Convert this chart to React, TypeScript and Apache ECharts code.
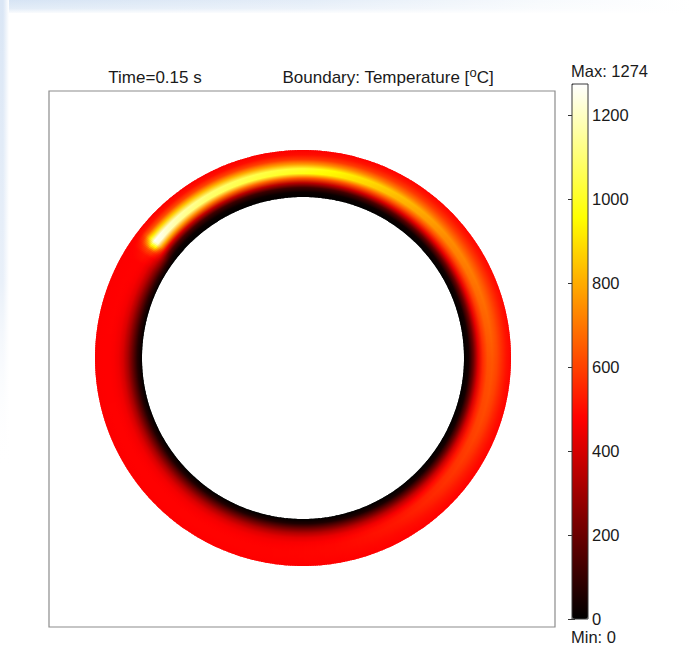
import React, { useEffect, useRef } from 'react';
import * as echarts from 'echarts';

// ---- data ----
const ringInner = 0.774; // inner radius (relative to outer radius)
const ringOuter = 1.0;
// positions across the wall, 0 = inner boundary, 1 = outer boundary
const wallPositions = [0, 0.1, 0.2, 0.3, 0.4, 0.5, 0.6, 0.7, 0.8, 0.9, 1.0];
// angles (degrees, counter-clockwise from +x)
const angles = [0, 20, 40, 60, 75, 90, 105, 120, 130, 136, 140, 142, 143.5, 145, 147, 150, 160, 180, 200, 220, 240, 260, 280, 300, 320, 340];
// temperature profiles across the wall, one row per angle
const temperatures = [
  [0, 40, 200, 420, 560, 630, 640, 610, 560, 510, 480],
  [0, 40, 205, 435, 590, 675, 690, 640, 580, 525, 488],
  [0, 30, 190, 430, 610, 730, 745, 660, 580, 520, 485],
  [0, 25, 160, 410, 640, 820, 840, 700, 590, 520, 480],
  [0, 20, 130, 380, 640, 900, 920, 740, 590, 510, 475],
  [0, 20, 110, 340, 640, 980, 1010, 760, 580, 500, 470],
  [0, 20, 110, 350, 670, 1030, 1050, 790, 600, 500, 470],
  [0, 20, 115, 360, 700, 1080, 1100, 820, 610, 505, 470],
  [0, 20, 125, 380, 740, 1130, 1160, 850, 620, 505, 470],
  [0, 25, 135, 400, 770, 1180, 1210, 870, 630, 510, 470],
  [0, 30, 150, 420, 800, 1230, 1255, 900, 640, 510, 470],
  [0, 40, 180, 450, 780, 1210, 1274, 940, 660, 515, 470],
  [0, 60, 220, 440, 640, 900, 950, 760, 590, 500, 470],
  [0, 80, 250, 420, 530, 610, 630, 590, 530, 485, 470],
  [0, 90, 250, 380, 460, 500, 515, 505, 488, 476, 470],
  [0, 90, 230, 350, 430, 470, 480, 480, 478, 475, 470],
  [0, 80, 210, 330, 420, 460, 475, 480, 478, 475, 470],
  [0, 70, 190, 310, 400, 450, 470, 478, 478, 475, 470],
  [0, 65, 190, 315, 405, 455, 472, 479, 479, 476, 470],
  [0, 60, 195, 320, 410, 458, 474, 480, 480, 477, 472],
  [0, 60, 195, 325, 415, 460, 475, 481, 481, 478, 473],
  [0, 60, 200, 330, 420, 462, 476, 482, 482, 479, 474],
  [0, 55, 200, 340, 435, 475, 488, 490, 487, 482, 475],
  [0, 50, 200, 355, 460, 510, 522, 512, 496, 486, 476],
  [0, 45, 200, 380, 500, 560, 572, 552, 522, 496, 478],
  [0, 40, 200, 400, 530, 600, 612, 586, 542, 505, 480],
];
const tempMin = 0;
const tempMax = 1274;
const tickInterval = 200;
const hotColors = ['#000000', '#550000', '#aa0000', '#ff0000', '#ff5500', '#ffaa00', '#ffff00', '#ffff80', '#ffffff'];
const timeTitle = 'Time=0.15 s';
const maxLabel = 'Max: 1274';
const minLabel = 'Min: 0';

const FONT = '"Liberation Sans", Arial, sans-serif';

const hotRgb = hotColors.map((h) => [
  parseInt(h.slice(1, 3), 16),
  parseInt(h.slice(3, 5), 16),
  parseInt(h.slice(5, 7), 16),
]);
function colorFor(v: number): string {
  const t = Math.min(1, Math.max(0, (v - tempMin) / (tempMax - tempMin))) * (hotRgb.length - 1);
  const k = Math.min(hotRgb.length - 2, Math.floor(t));
  const u = t - k;
  const a = hotRgb[k];
  const b = hotRgb[k + 1];
  return `rgb(${Math.round(a[0] + (b[0] - a[0]) * u)},${Math.round(a[1] + (b[1] - a[1]) * u)},${Math.round(a[2] + (b[2] - a[2]) * u)})`;
}

export default function App() {
  const ref = useRef<HTMLDivElement>(null);
  useEffect(() => {
    document.body.style.margin = '0';
    if (!ref.current) return;
    const chart = echarts.init(ref.current, undefined, { renderer: 'svg' });
    const n = angles.length;
    const data = angles.map((a, i) => [ringOuter, a, i, Math.max(...temperatures[i])]);

    const renderItem = (params: any, api: any) => {
      const i = api.value(2);
      const a0 = angles[i];
      const a1 = i + 1 < n ? angles[i + 1] : angles[0] + 360;
      const p0 = temperatures[i];
      const p1 = temperatures[(i + 1) % n];
      const c = api.coord([0, a0]);
      const cx = c[0];
      const cy = c[1];
      const dist = (p: number[]) => Math.hypot(p[0] - cx, p[1] - cy);
      const rPx = wallPositions.map((f) => dist(api.coord([ringInner + f * (ringOuter - ringInner), a0])));
      const rIn = rPx[0];
      const rOut = rPx[rPx.length - 1];
      const span = a1 - a0;
      const K = Math.max(1, Math.ceil(span / 0.5));
      const children: any[] = [];
      for (let k = 0; k < K; k++) {
        const ta = a0 + (span * k) / K;
        const tb = a0 + (span * (k + 1)) / K;
        const tm = (k + 0.5) / K;
        const pa = api.coord([ringOuter, ta]);
        const pb = api.coord([ringOuter, tb]);
        const angA = Math.atan2(pa[1] - cy, pa[0] - cx);
        const angB = Math.atan2(pb[1] - cy, pb[0] - cx);
        let d = angA - angB;
        while (d <= -Math.PI) d += 2 * Math.PI;
        while (d > Math.PI) d -= 2 * Math.PI;
        const start = Math.min(angA - d, angA);
        const end = Math.max(angA - d, angA);
        const stops = wallPositions.map((_, j) => ({
          offset: rPx[j] / rOut,
          color: colorFor(p0[j] + (p1[j] - p0[j]) * tm),
        }));
        children.push({
          type: 'sector',
          shape: { cx, cy, r0: rIn, r: rOut, startAngle: start - 0.003, endAngle: end + 0.003, clockwise: true },
          style: {
            fill: { type: 'radial', x: cx, y: cy, r: rOut, global: true, colorStops: stops },
            stroke: 'none',
          },
          silent: true,
        });
      }
      return { type: 'group', children };
    };

    const option: any = {
      animation: false,
      backgroundColor: '#ffffff',
      graphic: [
        {
          type: 'rect', z: -10, silent: true,
          shape: { x: 0, y: 0, width: 691, height: 13 },
          style: {
            fill: { type: 'linear', x: 0, y: 0, x2: 1, y2: 0, colorStops: [
              { offset: 0, color: '#d6e4f4' }, { offset: 0.45, color: '#e4edf8' },
              { offset: 0.78, color: '#f7fafd' }, { offset: 1, color: '#ffffff' } ] },
          },
        },
        {
          type: 'rect', z: -9, silent: true,
          shape: { x: 0, y: 0, width: 691, height: 14 },
          style: {
            fill: { type: 'linear', x: 0, y: 0, x2: 0, y2: 1, colorStops: [
              { offset: 0, color: 'rgba(255,255,255,0)' }, { offset: 0.6, color: 'rgba(255,255,255,0.3)' },
              { offset: 1, color: 'rgba(255,255,255,1)' } ] },
          },
        },
        {
          type: 'rect', z: -9, silent: true,
          shape: { x: 0, y: 0, width: 9, height: 470 },
          style: {
            fill: { type: 'linear', x: 0, y: 0, x2: 0, y2: 1, colorStops: [
              { offset: 0, color: '#dae6f5' }, { offset: 0.6, color: '#e9f0f9' },
              { offset: 1, color: 'rgba(255,255,255,0)' } ] },
          },
        },
        {
          type: 'rect', z: -8, silent: true,
          shape: { x: 3, y: 0, width: 6, height: 470 },
          style: {
            fill: { type: 'linear', x: 0, y: 0, x2: 1, y2: 0, colorStops: [
              { offset: 0, color: 'rgba(255,255,255,0)' }, { offset: 1, color: 'rgba(255,255,255,1)' } ] },
          },
        },
        {
          type: 'text', x: 155, y: 77,
          style: { text: timeTitle, fontSize: 17, fontFamily: FONT, fill: '#1a1a1a', align: 'center', verticalAlign: 'middle' },
        },
        {
          type: 'text', x: 388, y: 77,
          style: {
            text: '{n|Boundary: Temperature [}{s|o}{n|C]}',
            align: 'center', verticalAlign: 'middle', fill: '#1a1a1a',
            rich: {
              n: { fontSize: 17, fontFamily: FONT, lineHeight: 22, verticalAlign: 'middle', fill: '#1a1a1a' },
              s: { fontSize: 13, fontFamily: FONT, lineHeight: 12, verticalAlign: 'top', fill: '#1a1a1a' },
            },
          },
        },
        {
          type: 'text', x: 571, y: 71,
          style: { text: maxLabel, fontSize: 16.5, fontFamily: FONT, fill: '#1a1a1a', align: 'left', verticalAlign: 'middle' },
        },
        {
          type: 'text', x: 571, y: 637,
          style: { text: minLabel, fontSize: 16.5, fontFamily: FONT, fill: '#1a1a1a', align: 'left', verticalAlign: 'middle' },
        },
        {
          type: 'rect', z: 10, silent: true,
          shape: { x: 572, y: 84, width: 16, height: 535 },
          style: { fill: 'none', stroke: '#3a3a3a', lineWidth: 1 },
        },
      ],
      polar: { center: [303, 358], radius: 208 },
      radiusAxis: { min: 0, max: ringOuter, show: false },
      angleAxis: { min: 0, max: 360, startAngle: 0, clockwise: false, show: false },
      grid: [
        { left: 49, top: 91, width: 506, height: 536, show: true, borderColor: '#8c8c8c', borderWidth: 1.2, backgroundColor: 'rgba(0,0,0,0)' },
        { left: 572, top: 84, width: 16, height: 535, show: false },
      ],
      xAxis: [
        { gridIndex: 0, show: false, min: 0, max: 1 },
        { gridIndex: 1, show: false, min: 0, max: 1 },
      ],
      yAxis: [
        { gridIndex: 0, show: false, min: 0, max: 1 },
        {
          gridIndex: 1, min: tempMin, max: tempMax, interval: tickInterval, position: 'right',
          axisLine: { show: false }, splitLine: { show: false },
          axisTick: { show: true, inside: true, length: 4, lineStyle: { color: '#333', width: 1 } },
          axisLabel: {
            margin: 4, fontSize: 16.5, fontFamily: FONT, color: '#1a1a1a', showMaxLabel: false, showMinLabel: true,
            formatter: (v: number) => String(v),
          },
        },
        {
          gridIndex: 1, min: tempMin, max: tempMax, interval: tickInterval, position: 'left',
          axisLine: { show: false }, splitLine: { show: false },
          axisTick: { show: true, inside: true, length: 3, lineStyle: { color: '#333', width: 1 } },
          axisLabel: { show: false },
        },
      ],
      visualMap: {
        type: 'continuous', min: tempMin, max: tempMax, dimension: 3, seriesIndex: 0,
        left: 572, top: 84, itemWidth: 16, itemHeight: 535, padding: 0,
        calculable: false, hoverLink: false, text: null, showLabel: false,
        inRange: { color: hotColors },
        textStyle: { color: 'transparent' },
      },
      series: [
        {
          type: 'custom', coordinateSystem: 'polar', polarIndex: 0, silent: true,
          data, encode: { radius: 0, angle: 1 }, renderItem,
        },
      ],
    };
    chart.setOption(option);
    return () => chart.dispose();
  }, []);
  return <div ref={ref} style={{ width: 691, height: 645 }} />;
}
